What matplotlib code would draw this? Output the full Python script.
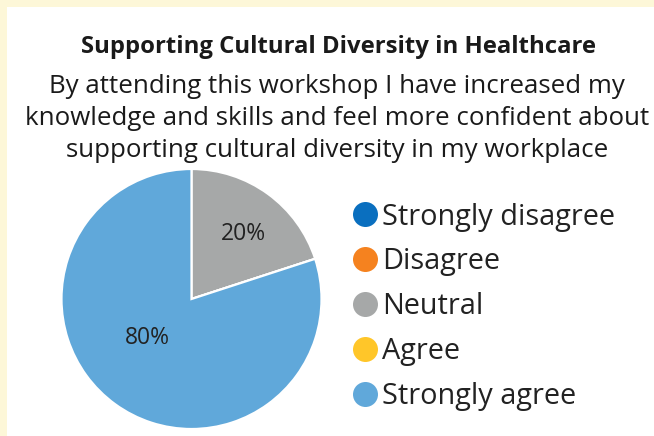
import matplotlib.pyplot as plt
from matplotlib.lines import Line2D

plt.rcParams["font.family"] = ["Open Sans", "DejaVu Sans"]

# survey responses (percent of attendees)
categories = ["Strongly disagree", "Disagree", "Neutral", "Agree", "Strongly agree"]
shares = [0, 0, 20, 0, 80]
colors = ["#0a6fbf", "#f5821f", "#a6a8a8", "#ffc629", "#60a8da"]

title = "Supporting Cultural Diversity in Healthcare"
subtitle = ("By attending this workshop I have increased my\n"
            "knowledge and skills and feel more confident about\n"
            "supporting cultural diversity in my workplace")

W, H = 654, 436
fig = plt.figure(figsize=(W / 100, H / 100), dpi=100)
fig.patch.set_facecolor("#fdf7d8")

# white panel inside the yellow border
bg = fig.add_axes([7 / W, 0, 1 - 7 / W, 1 - 7 / H], zorder=-1)
bg.set_facecolor("white")
bg.set_xticks([])
bg.set_yticks([])
for s in bg.spines.values():
    s.set_visible(False)

fig.text(338 / W, 1 - 47 / H, title, ha="center", va="center",
         fontsize=17.2, fontweight="bold", color="#1a1a1a")
fig.text(337 / W, 1 - 118.5 / H, subtitle, ha="center", va="center",
         fontsize=18.6, color="#1a1a1a", linespacing=1.38)

# pie, drawn clockwise from 12 o'clock
ax = fig.add_axes([61.5 / W, 1 - 429 / H, 260 / W, 260 / H])
wedges, _ = ax.pie(shares, colors=colors, startangle=90, counterclock=False,
                   wedgeprops=dict(edgecolor="white", linewidth=1.6))
ax.set_xlim(-1, 1)
ax.set_ylim(-1, 1)
ax.set_aspect("equal")

# percentage labels inside the visible slices
label_pos = {"Neutral": (0.40, 0.50), "Strongly agree": (-0.34, -0.30)}
for cat, val in zip(categories, shares):
    if val > 0:
        x, y = label_pos[cat]
        ax.text(x, y, f"{val}%", ha="center", va="center", fontsize=16.5, color="#222222")

handles = [Line2D([], [], marker="o", linestyle="none", markersize=18,
                  markerfacecolor=c, markeredgecolor="none") for c in colors]
fig.legend(handles, categories, loc="upper left", bbox_to_anchor=(336 / W, 1 - 191 / H),
           frameon=False, fontsize=20.8, handletextpad=0.0, labelspacing=0.55,
           handlelength=1.2, borderaxespad=0, labelcolor="#222222")

fig.savefig("out.png", dpi=100)
